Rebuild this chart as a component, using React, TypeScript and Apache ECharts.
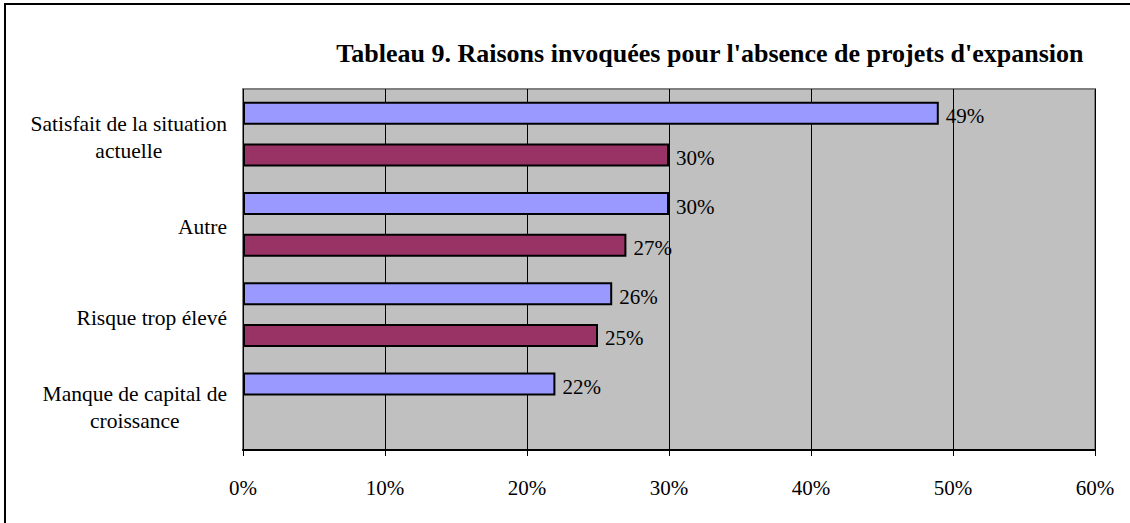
import React, { useEffect, useRef } from "react";
import * as echarts from "echarts";

const categories = [
  "Satisfait de la situation\nactuelle",
  "Autre",
  "Risque trop élevé",
  "Manque de capital de\ncroissance",
];
const seriesA = [49, 30, 26, 22];
const seriesB: (number | string)[] = [30, 27, 25, "-"];
const xTicks = { min: 0, max: 60, interval: 10 };
const title = "Tableau 9. Raisons invoquées pour l'absence de projets d'expansion";

const FONT = "'Liberation Serif', 'Times New Roman', serif";

export default function App() {
  const ref = useRef<HTMLDivElement>(null);
  useEffect(() => {
    document.body.style.margin = "0";
    const chart = echarts.init(ref.current!, null, { renderer: "svg" });
    const barLabel = {
      show: true,
      position: "right",
      distance: 7,
      offset: [0, 3],
      formatter: "{c}%",
      fontFamily: FONT,
      fontSize: 21,
      color: "#000",
    };
    chart.setOption({
      animation: false,
      backgroundColor: "#fff",
      title: {
        text: title,
        right: 41,
        top: 35,
        textStyle: { fontFamily: FONT, fontWeight: "bold", fontSize: 26, color: "#000" },
      },
      graphic: [
        {
          type: "rect",
          shape: { x: 5, y: 4, width: 1300, height: 700 },
          style: { fill: "none", stroke: "#000", lineWidth: 2 },
          silent: true,
          z: 100,
        },
      ],
      grid: {
        left: 243,
        right: 35,
        top: 89,
        bottom: 73,
        show: true,
        backgroundColor: "#c0c0c0",
        borderColor: "#808080",
        borderWidth: 2,
      },
      xAxis: {
        type: "value",
        min: xTicks.min,
        max: xTicks.max,
        interval: xTicks.interval,
        axisLine: { show: true, lineStyle: { color: "#000", width: 2 } },
        axisTick: { show: true, length: 6, lineStyle: { color: "#000", width: 1 } },
        splitLine: { show: true, lineStyle: { color: "#000", width: 1 } },
        axisLabel: {
          formatter: "{value}%",
          fontFamily: FONT,
          fontSize: 21,
          color: "#000",
          margin: 27,
        },
      },
      yAxis: {
        type: "category",
        data: categories,
        inverse: true,
        axisLine: { show: false },
        axisTick: { show: false },
        splitLine: { show: false },
        axisLabel: {
          margin: 16,
          padding: [6, 0, 0, 0],
          formatter: (v: string) =>
            v
              .split("\n")
              .map((l) => `{c|${l}}`)
              .join("\n"),
          rich: {
            c: {
              align: "center",
              fontFamily: FONT,
              fontSize: 21.5,
              lineHeight: 27,
              color: "#000",
            },
          },
        },
      },
      series: [
        {
          type: "bar",
          data: seriesA,
          barWidth: 23,
          barGap: "81%",
          itemStyle: { color: "#9999ff", borderColor: "#000", borderWidth: 2 },
          label: barLabel,
        },
        {
          type: "bar",
          data: seriesB,
          barWidth: 23,
          barGap: "81%",
          itemStyle: { color: "#993366", borderColor: "#000", borderWidth: 2 },
          label: barLabel,
        },
      ],
    });
    return () => chart.dispose();
  }, []);
  return <div ref={ref} style={{ width: 1130, height: 523 }} />;
}
